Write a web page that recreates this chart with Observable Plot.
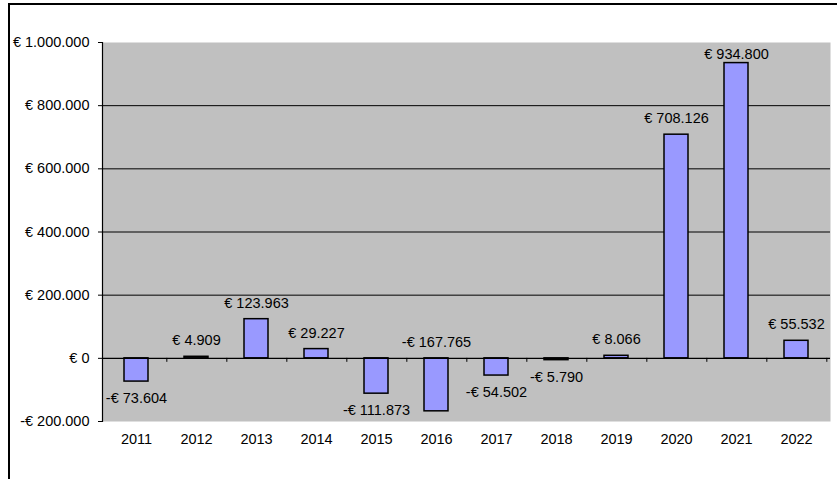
<!DOCTYPE html>
<html>
<head>
<meta charset="utf-8">
<script src="https://cdn.jsdelivr.net/npm/d3@7"></script>
<script src="https://cdn.jsdelivr.net/npm/@observablehq/plot@0.6"></script>
<style>
  html, body { margin: 0; padding: 0; background: #fff; }
  #wrap { position: relative; width: 837px; height: 479px; overflow: hidden; }
  #border { position: absolute; left: 8px; top: 3px; right: -10px; bottom: -10px;
            border-top: 2px solid #000; border-left: 2px solid #000; pointer-events: none; }
</style>
</head>
<body>
<div id="wrap"><div id="chart"></div><div id="border"></div></div>
<script>
const years = ["2011","2012","2013","2014","2015","2016","2017","2018","2019","2020","2021","2022"];
const values = [-73604, 4909, 123963, 29227, -111873, -167765, -54502, -5790, 8066, 708126, 934800, 55532];
const yTicks = [-200000, 0, 200000, 400000, 600000, 800000, 1000000];
const gridTicks = [200000, 400000, 600000, 800000];

const fmt = v => (v < 0 ? "-" : "") + "€ " + d3.format(",")(Math.abs(v)).replace(/,/g, ".");

const W = 837, H = 479, mL = 102, mR = 7, mT = 42, mB = 58;
const yMin = -200000, yMax = 1000000;
const perPx = (yMax - yMin) / (H - mT - mB);
const step = (W - mL - mR) / years.length;

// label anchor positions (Excel-like: outside end, kept inside plot area)
const labelY = values.map(v => {
  if (v >= 0) return Math.min(v + 16 * perPx, yMax - 12 * perPx);
  const below = v - 17 * perPx;
  return below < yMin + 10 * perPx ? 16 * perPx : below;
});

const data = years.map((y, i) => ({year: y, value: values[i], ly: labelY[i], label: fmt(values[i])}));

const chart = Plot.plot({
  width: W, height: H,
  marginLeft: mL, marginRight: mR, marginTop: mT, marginBottom: mB,
  style: {fontFamily: "'Liberation Sans', Arial, sans-serif", fontSize: "14.5px", color: "#000", background: "#fff"},
  x: {domain: years, paddingInner: 0.593, paddingOuter: 0.2965, align: 0.5, label: null},
  y: {domain: [yMin, yMax], label: null},
  marks: [
    Plot.frame({fill: "#c0c0c0", stroke: null}),
    Plot.ruleY(gridTicks, {stroke: "#000", strokeWidth: 1}),
    Plot.barY(data, {x: "year", y: "value", fill: "#9999ff", stroke: "#000", strokeWidth: 1.5}),
    Plot.ruleY([0], {stroke: "#000", strokeWidth: 1.2}),
    Plot.ruleX(years, {x: d => d, y1: 0, y2: 0, insetBottom: -4, dx: step / 2, stroke: "#000"}),
    Plot.frame({anchor: "left", stroke: "#000", strokeWidth: 1.2}),
    Plot.text(data, {x: "year", y: "ly", text: "label", fill: "#000", fontSize: 14.5}),
    Plot.axisY({ticks: yTicks, tickFormat: fmt, tickSize: 4, tickPadding: 9, fontSize: 14.5, label: null}),
    Plot.axisX({tickSize: 0, tickPadding: 12, fontSize: 14.5, label: null})
  ]
});
document.getElementById("chart").appendChild(chart);
</script>
</body>
</html>
